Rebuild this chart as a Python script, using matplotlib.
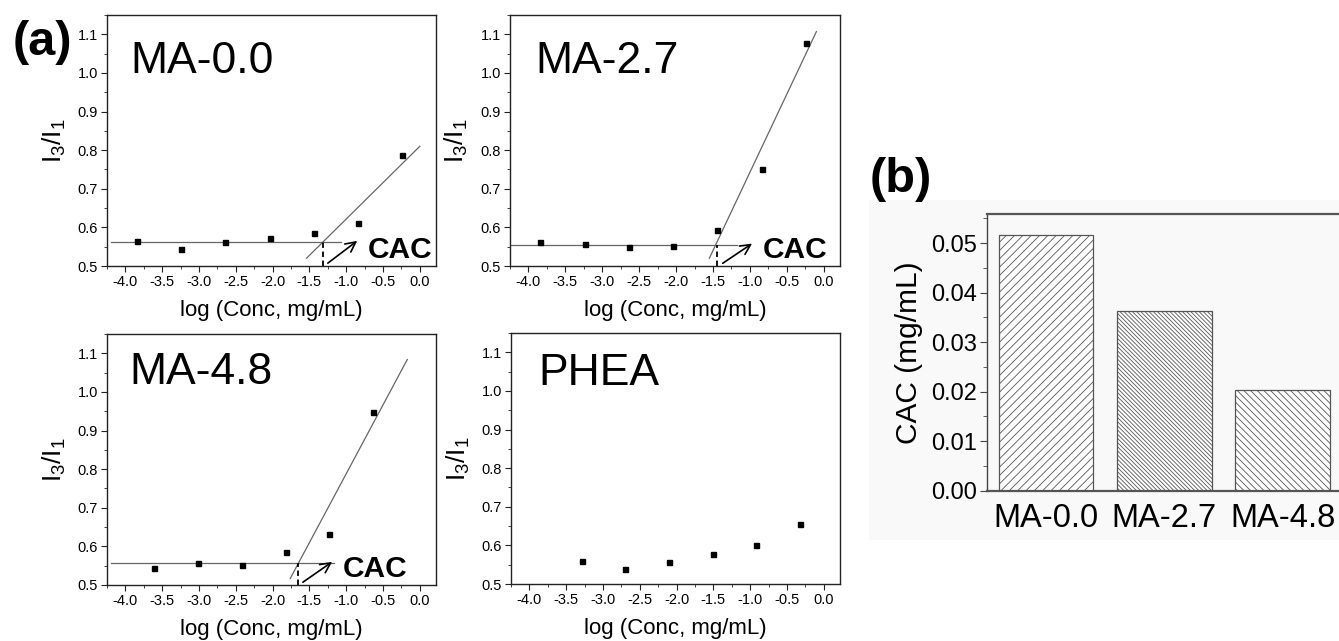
import numpy as np
import matplotlib
matplotlib.use('agg')
import matplotlib.pyplot as plt
from matplotlib.patches import Rectangle
from matplotlib.ticker import MultipleLocator, FormatStrFormatter

plt.rcParams['font.family'] = ['Liberation Sans', 'DejaVu Sans']
plt.rcParams['mathtext.fontset'] = 'custom'
plt.rcParams['mathtext.rm'] = 'Liberation Sans'
plt.rcParams['mathtext.it'] = 'Liberation Sans:italic'
plt.rcParams['axes.unicode_minus'] = False
plt.rcParams['hatch.linewidth'] = 0.6

# ---- data (a): log(conc) vs I3/I1 ----
conc_ma00 = [-3.84, -3.24, -2.64, -2.04, -1.44, -0.84, -0.24]
ratio_ma00 = [0.565, 0.543, 0.562, 0.572, 0.585, 0.611, 0.788]
conc_ma27 = [-3.84, -3.24, -2.64, -2.04, -1.44, -0.84, -0.24]
ratio_ma27 = [0.563, 0.556, 0.550, 0.553, 0.594, 0.752, 1.077]
conc_ma48 = [-3.61, -3.02, -2.42, -1.82, -1.23, -0.63]
ratio_ma48 = [0.545, 0.558, 0.552, 0.585, 0.633, 0.948]
conc_phea = [-3.29, -2.70, -2.10, -1.51, -0.92, -0.33]
ratio_phea = [0.559, 0.539, 0.558, 0.578, 0.601, 0.655]

# fitted lines: plateau (level, x start, x end), rising line (x0, y0, x1, y1)
plateau = {'MA-0.0': (0.5615, -4.2, -1.07),
           'MA-2.7': (0.554, -4.25, -1.18),
           'MA-4.8': (0.556, -4.2, -1.16)}
rise = {'MA-0.0': (-1.54, 0.520, 0.00, 0.810),
        'MA-2.7': (-1.55, 0.520, -0.10, 1.107),
        'MA-4.8': (-1.76, 0.517, -0.17, 1.084)}
cac_log = {'MA-0.0': -1.32, 'MA-2.7': -1.44, 'MA-4.8': -1.66}

# ---- data (b): CAC ----
samples = ['MA-0.0', 'MA-2.7', 'MA-4.8']
cac = [0.0516, 0.0363, 0.0203]
hatches = ['////', '\\\\\\\\\\\\\\\\', '\\\\\\\\\\']

W, H = 1339, 641
fig = plt.figure(figsize=(W / 100, H / 100), dpi=100)

# faint grey backdrop behind panel (b)
fig.patches.append(Rectangle((869 / W, 1 - 540 / H), 470 / W, 340 / H,
                             transform=fig.transFigure, facecolor='#f9f9f9',
                             edgecolor='none', zorder=-1))


def conc_panel(rect, x, y, name, title_xy):
    ax = fig.add_axes(rect)
    ax.set_facecolor('none')
    ax.plot(x, y, 's', color='black', ms=3.6, zorder=3)
    if name in plateau:
        lv, xa, xb = plateau[name]
        ax.plot([xa, xb], [lv, lv], color='#666666', lw=0.9)
        x0, y0, x1, y1 = rise[name]
        ax.plot([x0, x1], [y0, y1], color='#666666', lw=0.9)
        xc = cac_log[name]
        ax.plot([xc, xc], [0.5, lv], color='black', lw=1.3, ls=(0, (3, 2)))
        ax.annotate('', xy=(xc + 0.5, lv + 0.008), xytext=(xc + 0.04, 0.503),
                    arrowprops=dict(arrowstyle='->', color='black', lw=1.2,
                                    mutation_scale=18))
        ax.text(xc + 0.61, 0.541, 'CAC', fontsize=21.5, fontweight='bold',
                va='center', ha='left')
    ax.text(title_xy[0], title_xy[1], name, fontsize=32, va='center', ha='left')
    ax.set_xlim(-4.25, 0.22)
    ax.set_ylim(0.5, 1.15)
    ax.xaxis.set_major_locator(MultipleLocator(0.5))
    ax.xaxis.set_minor_locator(MultipleLocator(0.25))
    ax.yaxis.set_major_locator(MultipleLocator(0.1))
    ax.yaxis.set_minor_locator(MultipleLocator(0.05))
    ax.xaxis.set_major_formatter(FormatStrFormatter('%.1f'))
    ax.yaxis.set_major_formatter(FormatStrFormatter('%.1f'))
    ax.tick_params(which='both', direction='out', labelsize=10.5, pad=2.5,
                   color='#222222')
    ax.tick_params(which='major', length=4)
    ax.tick_params(which='minor', length=2.5)
    for s in ax.spines.values():
        s.set_color('#222222')
        s.set_linewidth(1.0)
    ax.set_xlabel('log (Conc, mg/mL)', fontsize=16)
    ax.set_ylabel(r'$\mathrm{I_3/I_1}$', fontsize=19)
    ax.xaxis.set_label_coords(0.5, -0.135)
    ax.yaxis.set_label_coords(-0.12, 0.5)
    return ax


conc_panel([107 / W, 1 - 266 / H, 329 / W, 251 / H], conc_ma00, ratio_ma00,
           'MA-0.0', (-3.93, 1.03))
conc_panel([510 / W, 1 - 266 / H, 330 / W, 251 / H], conc_ma27, ratio_ma27,
           'MA-2.7', (-3.91, 1.03))
conc_panel([107 / W, 1 - 585 / H, 329 / W, 251 / H], conc_ma48, ratio_ma48,
           'MA-4.8', (-3.95, 1.05))
conc_panel([511 / W, 1 - 584 / H, 329 / W, 251 / H], conc_phea, ratio_phea,
           'PHEA', (-3.88, 1.044))

# ---- panel (b) ----
axb = fig.add_axes([986.7 / W, 1 - 490.7 / H, 355 / W, 276.7 / H])
axb.set_facecolor('none')
pos = np.arange(1, len(samples) + 1)
for p, v, h in zip(pos, cac, hatches):
    axb.bar(p, v, width=0.8, facecolor='white', edgecolor='#555555',
            linewidth=0.9, hatch=h, zorder=2)
axb.set_xlim(0.5, 3.5)
axb.set_ylim(0, 0.0559)
axb.set_xticks(pos)
axb.set_xticklabels(samples)
axb.yaxis.set_major_locator(MultipleLocator(0.01))
axb.yaxis.set_minor_locator(MultipleLocator(0.005))
axb.yaxis.set_major_formatter(FormatStrFormatter('%.2f'))
axb.tick_params(axis='y', which='both', direction='out', labelsize=17,
                pad=2.0, color='#444444')
axb.tick_params(axis='y', which='major', length=5)
axb.tick_params(axis='y', which='minor', length=3)
axb.tick_params(axis='x', length=0, labelsize=23.5, pad=9)
for k in ['left', 'right']:
    axb.spines[k].set_color('#444444')
    axb.spines[k].set_linewidth(1.0)
for k in ['top', 'bottom']:
    axb.spines[k].set_color('#555555')
    axb.spines[k].set_linewidth(1.6)
axb.set_ylabel('CAC (mg/mL)', fontsize=21.5)
axb.yaxis.set_label_coords(-0.18, 0.5)

fig.text(13 / W, 1 - 42.5 / H, '(a)', fontsize=35, fontweight='bold',
         va='center', ha='left')
fig.text(870 / W, 1 - 179 / H, '(b)', fontsize=35, fontweight='bold',
         va='center', ha='left')

fig.savefig('out.png', dpi=100)
plt.close(fig)
